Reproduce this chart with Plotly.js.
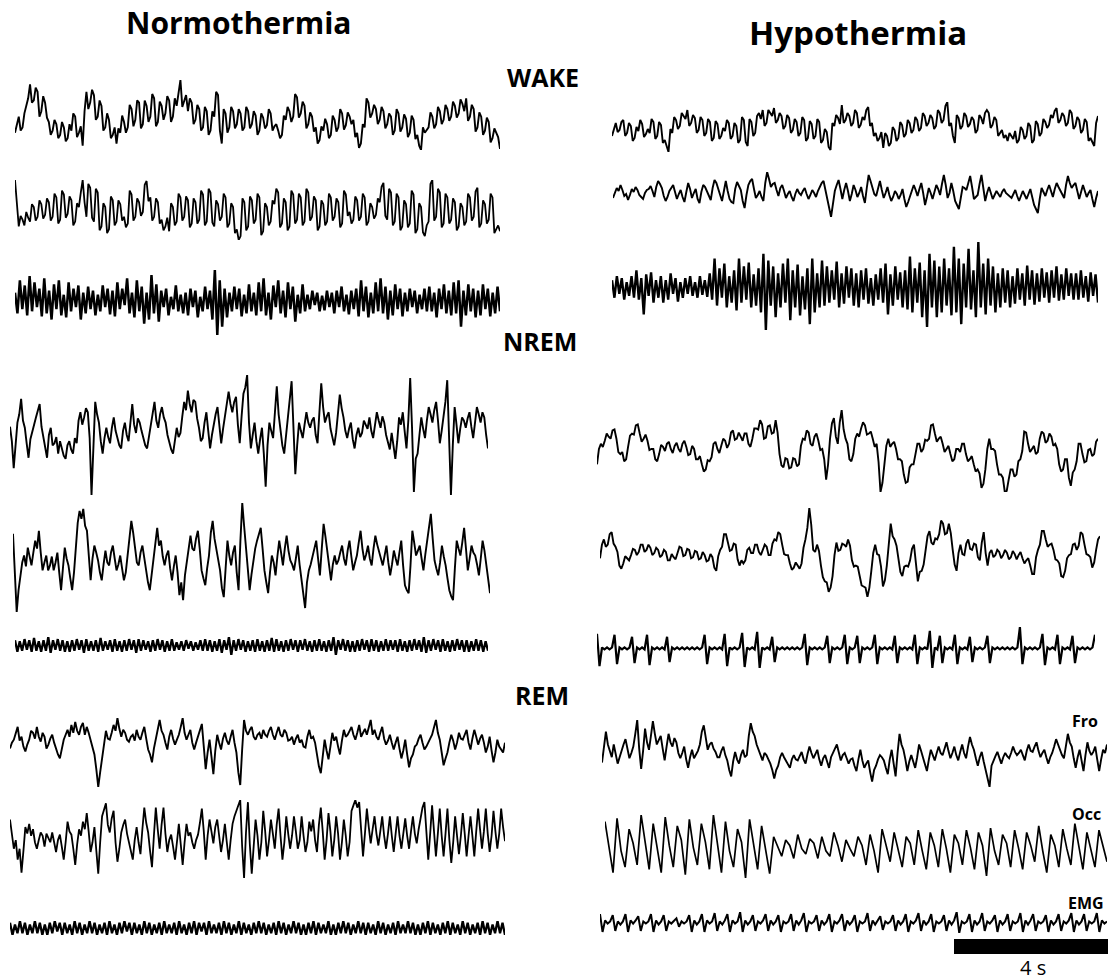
<!DOCTYPE html>
<html><head><meta charset="utf-8">
<script src="https://cdn.plot.ly/plotly-3.0.1.min.js"></script>
<style>html,body{margin:0;padding:0;background:#fff}</style>
</head><body>
<div id="chart" style="width:1113px;height:980px"></div>
<script>
// ---- Column / state labels ----
const columnTitles = ["Normothermia", "Hypothermia"];
const stateLabels = ["WAKE", "NREM", "REM"];
const channelLabels = ["Fro", "Occ", "EMG"];
const scaleLabel = "4 s";

// ---- Normothermia, WAKE ----
const normoWakeFro = [
-10,-2,5,-8,-5,8,15,22,35,18,20,32,28,5,10,24,18,4,0,-12,
-8,2,-2,-15,-12,0,-5,-18,-15,-2,-8,8,5,-14,-10,-4,-22,10,28,12,
18,30,25,2,5,20,15,-8,-5,8,2,-15,-12,-5,-20,-6,-10,6,0,-10,
-5,16,12,-4,2,20,18,-6,-2,20,15,0,5,26,22,-4,0,19,15,2,
8,24,20,0,5,22,15,30,39,14,20,25,10,22,18,-2,2,16,12,-8,
-5,14,10,-12,-8,10,5,28,25,-8,-20,12,8,-10,-5,14,10,-6,-2,12,
8,-8,-5,14,10,-6,-2,10,6,-12,-8,8,4,-6,-3,12,8,-8,-4,-2,
-8,-15,-12,6,2,14,10,0,5,26,23,4,8,19,15,-6,-2,9,5,-9,
-5,-20,-17,-4,-8,3,-2,-15,-12,6,2,-9,-5,12,8,-7,-3,9,5,-2,
2,-14,-10,-24,-20,-2,-5,22,18,4,8,16,12,-2,2,14,10,-6,-2,8,
5,-12,-8,12,8,-9,-5,7,3,-14,-10,6,2,-16,-12,-22,-26,-5,-10,-8,
-5,9,5,-6,-2,14,10,-2,2,16,12,1,5,19,15,4,8,21,17,10,
22,1,5,16,12,-9,-5,9,5,-12,-8,4,0,-19,-15,-6,-10,-14,-25];
const normoWakeOcc = [
33,10,-15,-4,-8,-14,0,-6,-10,8,5,-9,-5,12,8,-7,-3,14,10,-9,
-5,19,15,-12,-8,22,18,-6,-2,16,12,-14,-10,9,5,20,33,10,-5,29,
25,-6,-10,24,20,-19,-15,9,5,-22,-18,16,12,-14,-10,12,8,-9,-5,-16,
-12,22,18,-9,-5,14,10,-4,0,28,32,11,15,-9,-5,14,10,-12,-8,-19,
-15,-6,-20,9,5,-14,-10,19,15,-9,-5,16,12,-16,-12,14,10,-12,-8,22,
18,-14,-10,24,20,-11,-15,12,8,-9,-5,19,15,-16,-12,9,5,-22,-18,-29,
-25,14,10,-19,-15,16,12,-12,-8,19,15,-24,-20,9,5,-14,-10,12,8,24,
20,-16,-12,14,10,-19,-15,22,18,-12,-8,19,15,-14,-10,24,20,-9,-5,16,
12,-19,-15,12,8,-14,-10,19,15,-9,-5,14,10,-16,-12,22,18,-4,0,-12,
-8,16,12,-9,-5,19,15,-14,-10,9,5,-7,-3,14,10,26,30,-4,-8,24,
20,-14,-10,19,15,-19,-15,12,8,-16,-12,22,18,-22,-18,9,5,-21,-25,-14,
-10,29,33,-9,-5,24,20,-16,-12,19,15,-12,-8,14,10,-19,-15,9,5,-14,
-10,19,15,-9,-5,21,25,-16,-12,12,8,-12,-8,19,15,-22,-18,-14,-20];
const normoWakeEmg = [
8,-12,20,-8,15,-14,24,-10,18,-6,
12,-15,22,-12,10,-18,16,-8,20,-14,
6,-16,18,-10,12,-6,15,-18,8,-12,
14,-8,10,-14,6,-10,15,-6,12,-13,
10,-15,18,-8,12,-4,22,-12,8,-16,
20,-10,14,-22,8,-18,25,-12,16,-20,
10,-6,12,-14,4,-8,15,-10,6,-12,
8,-14,12,-6,10,-16,4,-10,14,-8,
10,-18,30,-33,20,-25,12,-16,8,-10,
14,-8,12,-15,6,-12,16,-10,8,-14,
18,-10,22,-14,8,-18,15,-6,20,-12,
10,-16,18,-8,14,-20,6,-12,16,-10,
6,-8,10,-4,8,-10,5,-9,10,-6,
8,-12,10,-6,14,-10,6,-13,10,-8,
12,-15,20,-10,14,-16,8,-12,18,-10,
22,-12,14,-18,10,-14,16,-8,12,-15,
8,-10,12,-6,10,-12,6,-8,12,-10,
14,-10,8,-16,12,-8,16,-12,10,-14,
18,-12,20,-25,10,-14,16,-10,12,-16,
10,-14,16,-8,12,-15,8,-12,14,-10];

// ---- Normothermia, NREM ----
const normoNremFro = [
6,-8,-34,-12,10,18,33,12,5,-10,-24,-6,0,8,15,22,28,6,-5,-16,
-24,-2,5,-12,-10,-4,-20,-8,-15,-22,-25,-12,-8,-16,-20,-5,-10,12,20,8,
15,24,20,-5,-60,-10,30,18,10,-8,-20,-5,5,-4,-10,5,15,2,-5,-12,
-15,2,10,-2,-8,12,28,8,0,14,10,2,-5,-12,-15,-4,5,18,30,12,
5,18,25,15,10,-2,-10,-16,-20,-6,5,-4,0,16,30,22,41,28,20,32,
30,14,5,-8,-5,10,20,2,-15,-2,10,18,25,5,-10,4,15,30,40,28,
20,30,35,8,-10,16,38,44,56,10,-15,-2,10,-8,-20,-6,5,-20,-52,-12,
10,2,-5,20,45,18,0,-12,-20,-4,15,32,50,5,-40,-12,10,2,-5,8,
20,10,5,12,15,-2,-10,20,48,25,10,16,20,4,-5,-12,0,18,37,24,
15,2,-5,4,10,-6,-15,-2,5,-4,0,12,8,4,15,2,-5,8,20,12,
5,16,10,-2,-10,-16,0,-14,-25,-8,15,8,20,2,-15,12,53,5,-57,-25,
-20,-2,15,4,-5,12,25,18,10,22,30,12,-10,2,15,30,51,0,-60,-12,
25,8,-10,4,15,12,5,14,20,6,-5,10,25,18,10,20,15,-2,-15];
const normoNremOcc = [
27,-10,-52,-30,-15,-2,5,-6,13,2,-5,8,20,12,30,8,-10,-2,5,-10,
-5,4,-10,-2,8,-12,-30,-8,13,2,-5,-18,-30,-12,10,38,50,42,52,35,
30,5,-20,2,15,8,0,-12,-20,-4,10,-2,-5,8,15,2,-10,-4,5,-8,
-20,-12,5,22,40,28,10,-2,-5,8,15,2,-10,-22,-30,-14,0,20,33,15,
20,4,-5,5,10,-8,-20,-6,5,-12,-35,-22,-40,-15,0,14,25,12,10,22,
30,12,-10,-18,-25,-8,5,28,40,22,10,2,-10,-28,-37,-8,20,5,-5,8,
15,-12,-30,20,58,35,10,-12,-30,-14,0,12,20,28,33,12,-10,-22,-33,-12,
5,-2,-15,4,20,8,-5,12,25,10,0,-4,-10,2,15,-4,-20,-36,-48,-22,
-10,-4,5,14,20,2,-15,12,37,24,10,-8,-20,-4,5,-4,0,8,15,2,
-5,10,20,4,-10,-2,5,18,30,12,0,6,15,2,-5,12,25,16,10,2,
-5,4,15,-2,-15,-4,10,2,-5,8,20,-5,-25,-30,-33,-5,30,18,5,10,
15,2,-10,6,20,34,47,22,0,-8,-15,-2,15,4,-5,-18,-30,-36,-40,-8,
20,12,5,18,33,12,-10,2,15,8,5,-4,-15,2,20,10,-5,-20,-33];
const normoNremEmg = [
5,-6,4,-5,6,-4,5,-6,7,-5,
4,-6,5,-5,8,-7,5,-4,6,-5,
5,-6,4,-6,5,-5,6,-4,5,-7,
6,-5,4,-5,5,-6,7,-5,4,-4,
5,-6,6,-5,4,-6,5,-5,6,-4,
5,-7,6,-5,5,-4,4,-6,5,-5,
6,-4,5,-6,4,-5,6,-5,3,-4,
4,-5,5,-3,4,-5,3,-4,5,-5,
6,-5,5,-6,4,-5,6,-7,5,-4,
8,-9,5,-5,6,-4,5,-6,4,-5,
5,-6,6,-5,4,-6,5,-5,7,-6,
6,-5,4,-6,5,-5,6,-4,5,-6,
5,-4,6,-5,4,-6,5,-5,6,-5,
4,-6,5,-5,8,-9,5,-4,6,-5,
5,-6,4,-6,5,-5,6,-4,5,-6,
6,-5,5,-6,4,-5,6,-5,5,-4,
5,-6,6,-5,4,-6,5,-5,6,-4,
5,-6,8,-7,5,-5,6,-4,5,-6,
6,-5,4,-6,5,-5,6,-4,5,-6,
5,-6,4,-5,6,-5,5,-6,4,-5];

// ---- Normothermia, REM ----
const normoRemFro = [
-4,2,5,12,18,4,8,-2,-7,0,5,14,12,6,18,8,3,12,8,-4,
0,6,10,2,-5,-10,-14,-4,5,10,15,8,20,12,23,14,10,18,22,10,
18,12,5,-2,-10,-25,-43,-28,-15,2,14,6,5,12,20,14,27,16,8,15,
12,5,3,8,10,4,15,8,5,12,18,6,-5,-10,-18,-4,5,16,25,14,
10,2,-5,8,15,6,0,5,10,18,27,12,5,10,15,2,-5,2,8,14,
21,-2,-25,-8,5,-12,-30,-6,10,2,-5,6,12,4,0,8,15,2,-8,-28,
-41,-5,25,14,10,15,18,8,5,10,12,6,15,10,8,14,18,10,5,12,
18,10,8,15,12,4,5,8,0,6,10,2,5,-2,-3,8,15,6,8,2,
-10,-22,-29,-8,5,-6,-15,-2,12,4,8,-2,-10,4,15,8,10,14,18,10,
5,12,20,8,12,16,10,18,25,10,15,8,5,12,18,6,0,4,10,2,
-5,2,8,-4,-14,-6,5,-10,-23,-14,-10,-2,0,6,10,2,-5,-2,3,6,
10,18,25,12,5,-8,-21,-14,-8,2,10,4,-5,2,12,6,5,10,15,2,
-5,6,15,8,0,6,10,2,-8,-2,8,-6,-18,-8,5,-2,-5,-8,2];
const normoRemOcc = [
17,5,-10,-2,-20,-10,-32,-12,10,4,13,2,8,-4,-10,-2,5,2,-8,4,
0,-4,5,-6,-13,-2,3,-8,-20,-4,15,6,3,-10,-25,-6,8,2,15,8,
23,6,-13,-4,10,-12,-33,-4,20,26,32,12,5,18,25,-4,-22,-10,5,12,
17,4,-5,-12,-20,-2,10,-4,-15,8,28,14,5,-12,-27,2,28,8,-10,12,
28,4,-13,-2,3,-8,-20,-4,13,-6,-25,-4,13,2,5,-4,-10,-2,3,14,
27,6,-20,2,17,6,-5,10,17,2,-13,-2,13,-4,-20,-2,13,20,25,30,
35,-8,-37,5,33,-6,-33,-8,17,2,-20,-4,25,6,-17,-2,17,4,-10,12,
27,2,-20,-4,20,4,-10,2,20,6,-10,-2,20,2,-13,-4,15,6,17,-2,
-13,12,28,6,-20,-2,23,6,-17,-2,20,4,-20,-4,17,2,-17,-4,25,30,
35,28,33,8,-17,4,27,10,-5,8,20,4,-7,6,20,2,-10,4,20,2,
-13,4,20,2,-10,4,18,2,-10,6,20,4,-5,8,20,28,33,6,-20,4,
30,6,-17,4,27,2,-17,4,27,-2,-23,-4,20,2,-15,2,23,4,-17,2,
20,2,-17,6,27,8,-10,6,27,4,-13,2,25,6,-10,4,27,10,-3];
const normoRemEmg = [
3,-4,2,-3,4,-3,3,-4,2,-3,
4,-3,3,-4,2,-4,3,-3,4,-2,
3,-4,3,-3,2,-4,4,-3,3,-4,
2,-3,4,-3,3,-4,2,-3,3,-4,
4,-3,2,-4,3,-3,4,-2,3,-4,
3,-3,2,-4,4,-3,3,-4,2,-3,
3,-4,4,-3,2,-3,3,-4,4,-3,
2,-4,3,-3,4,-4,3,-2,3,-4,
4,-3,2,-3,3,-4,4,-3,3,-4,
2,-3,4,-4,3,-3,2,-4,3,-3,
4,-3,3,-4,2,-3,3,-4,4,-3,
3,-4,2,-3,4,-3,3,-4,2,-4,
3,-3,4,-4,3,-3,2,-3,4,-4,
2,-4,3,-3,4,-3,3,-4,2,-3,
4,-3,3,-4,3,-3,2,-4,4,-3,
3,-4,2,-3,3,-4,4,-3,2,-3,
4,-3,3,-4,2,-4,3,-3,4,-4,
3,-3,2,-4,3,-3,4,-4,3,-3,
2,-4,4,-3,3,-4,2,-3,3,-4,
4,-3,3,-4,2,-3,4,-3,3,-4];

// ---- Hypothermia, WAKE ----
const hypoWakeFro = [
-8,-2,5,-4,-2,6,8,-8,-5,5,2,-13,-10,1,-3,8,4,-9,-6,-1,
-5,9,6,-11,-8,6,3,-15,-12,-18,-24,-1,-5,11,8,-1,2,15,12,9,
18,2,5,13,10,-5,-2,11,8,-8,-5,9,6,-13,-10,7,4,-11,-8,0,
-3,8,5,-11,-8,5,2,-15,-12,11,8,-14,-18,9,6,-8,-5,12,15,9,
18,2,5,18,15,12,20,5,8,15,12,-1,2,13,10,-5,-2,9,6,-8,
-5,11,8,-13,-10,7,4,-11,-8,9,6,-15,-12,-1,-4,-19,-22,5,2,13,
10,4,23,5,8,15,12,2,5,18,15,0,3,11,8,18,21,2,5,-8,
-5,-13,-10,-4,-20,-5,-8,-18,-15,1,-2,-13,-10,6,3,-9,-6,8,5,-5,
-2,11,8,-3,0,15,12,2,5,13,10,-1,2,18,15,5,8,22,26,2,
5,-8,-15,13,10,-1,2,15,12,1,4,11,8,-5,-2,13,10,4,15,18,
15,0,3,11,8,-8,-5,-2,-10,-7,-13,-5,-8,-11,-3,-15,-12,1,-2,-11,
-8,5,2,-15,-12,7,4,-8,-5,9,6,0,3,13,10,17,20,5,8,15,
12,2,5,18,15,-1,2,11,8,-5,-2,9,6,-13,-10,-15,-18,5,12];
const hypoWakeOcc = [
-5,1,5,2,8,3,-3,-1,-7,-2,4,1,6,3,-2,-4,-6,0,3,4,
7,2,-4,6,12,9,5,-3,-8,-4,2,5,8,1,-6,-1,3,-4,-9,1,
10,4,-5,0,4,-6,-10,1,8,6,2,-3,-7,5,13,10,5,-2,-8,3,
12,2,-6,-9,-10,4,11,7,3,-8,-15,-2,8,12,14,4,-5,-2,2,-4,
-8,10,21,14,6,9,10,3,-3,5,8,2,-5,-1,2,-4,-8,-1,4,0,
-2,2,5,-1,-6,-2,3,0,-4,2,7,10,12,4,-5,-15,-24,-8,2,8,
13,4,-6,3,10,2,-8,-1,8,3,-4,0,6,-3,-10,5,18,12,5,-1,
-3,6,12,3,-5,0,6,-2,-8,-4,2,-1,-6,-2,4,-6,-14,-9,-4,2,
8,3,-3,4,10,0,-12,-4,5,0,-6,1,8,4,-2,9,18,8,-5,0,
10,2,-8,-12,-16,-5,6,5,3,10,17,6,-6,-4,-2,9,18,5,-8,0,
6,0,-6,-2,2,-1,-4,1,4,0,-2,-4,-5,-1,3,-3,-8,-3,2,-2,
-6,-1,4,-4,-12,-16,-20,-6,5,1,-3,3,8,2,-4,4,10,6,2,-2,
-5,8,17,10,5,8,10,2,-6,1,8,2,-4,0,3,-6,-14,-5,2];
const hypoWakeEmg = [
8,-10,12,-6,10,-12,6,-8,12,-10,
18,-12,10,-27,14,-8,16,-15,8,-10,
12,-15,8,-12,15,-6,10,-14,6,-10,
10,-6,12,-8,6,-10,12,-7,8,-9,
15,-12,30,-18,20,-10,25,-20,12,-15,
18,-23,30,-15,22,-12,26,-20,14,-18,
20,-25,35,-43,28,-18,22,-30,15,-20,
25,-15,30,-33,18,-20,24,-28,12,-22,
20,-37,30,-25,15,-20,28,-18,22,-15,
18,-12,27,-20,15,-16,22,-10,20,-18,
15,-20,18,-12,20,-16,10,-18,14,-12,
20,-15,25,-27,14,-18,22,-12,16,-20,
18,-22,32,-25,20,-15,26,-30,18,-40,
35,-20,28,-30,22,-25,30,-18,20,-28,
42,-25,30,-37,25,-20,40,-22,18,-30,
47,-20,25,-27,30,-18,22,-25,15,-20,
20,-15,18,-20,12,-16,20,-12,15,-18,
23,-12,18,-17,15,-14,20,-10,16,-15,
18,-10,22,-13,14,-12,20,-8,15,-12,
15,-12,18,-10,12,-14,16,-8,14,-15];

// ---- Hypothermia, NREM ----
const hypoNremFro = [
-15,0,5,2,8,15,12,10,18,19,10,-3,-5,-3,-12,-10,2,13,15,14,
23,24,15,7,10,14,8,-1,0,0,-10,-12,-5,4,2,-2,5,7,0,-4,
3,6,0,-3,5,8,2,-6,-5,3,0,-10,-10,-7,-15,-22,-20,-11,-12,-8,
5,7,0,-4,3,10,8,1,5,16,18,9,10,16,12,8,15,15,5,2,
10,20,20,19,28,24,10,11,22,23,15,16,28,16,-5,-16,-18,-9,-10,-19,
-18,-9,-10,-17,-15,3,10,9,18,16,5,3,12,15,8,-1,0,-10,-30,-15,
10,25,30,12,5,26,38,19,10,5,-10,-12,-5,10,15,12,20,26,23,14,
15,17,10,2,5,-13,-42,-33,-15,3,10,2,5,7,0,-10,-10,-12,-25,-33,
-32,-18,-15,-15,-5,5,5,-3,0,9,8,10,23,24,15,7,10,12,5,-3,
0,3,-5,-12,-10,0,0,-3,5,5,-5,-12,-10,-7,-15,-22,-20,-24,-38,-34,
-20,0,10,0,0,-2,-15,-25,-25,-28,-42,-41,-30,-20,-20,-27,-25,-12,-10,-2,
17,16,5,-3,0,3,-5,-3,10,17,15,6,8,15,12,3,5,0,-15,-22,
-20,-10,-10,-28,-36,-23,-20,-12,5,5,-5,-13,-12,-1,0,-7,-5,7,10];
const hypoNremOcc = [
-3,10,15,8,10,20,22,11,8,3,-10,-13,-8,-1,-3,-5,0,6,5,0,
3,10,10,3,5,10,7,0,2,7,5,-2,0,5,3,-5,-5,1,-2,-4,
2,8,7,-1,0,6,5,-3,-2,4,3,-4,-3,3,0,-6,-5,1,-2,-12,
-15,-1,5,8,20,20,12,4,5,11,10,-4,-10,-5,-8,-5,5,7,2,2,
10,10,3,0,5,10,8,0,0,11,15,14,22,20,10,1,0,0,-8,-14,
-12,-7,-10,-13,-8,7,15,26,45,29,5,3,10,4,-10,-21,-25,-26,-35,-31,
-20,0,12,4,5,11,10,8,15,9,-5,-11,-10,-11,-20,-29,-30,-31,-40,-31,
-15,2,10,1,0,-11,-30,-24,-10,14,30,18,15,9,-5,-16,-20,-11,-10,-11,
-5,6,10,-11,-25,-16,-15,-9,5,18,23,12,10,16,15,20,33,30,20,21,
30,21,5,-9,-15,2,10,1,0,11,15,6,5,11,10,-2,-5,12,22,2,
-10,2,5,-2,0,5,3,-3,0,5,2,-4,-2,4,1,-4,0,3,-3,-8,
-5,-3,-10,-18,-18,-2,5,10,23,23,15,8,10,11,5,-4,-5,-8,-20,-21,
-15,-3,0,1,10,11,5,9,22,20,10,1,0,-2,-12,-7,5,15,18];
const hypoNremEmg = [
15,-18,1,-1,1,-1,1,14,-16,1,
-1,1,-1,1,12,-15,1,-1,1,-1,
14,-17,1,-1,1,-1,1,-1,12,-14,
1,-1,1,-1,1,-1,1,-1,1,-1,
1,-1,1,14,-16,1,-1,1,-1,1,
-1,15,-18,1,-1,1,-1,1,16,-19,
1,-1,1,-1,17,-20,1,-1,1,-1,
12,-14,1,-1,1,-1,1,-1,1,-1,
1,-1,1,15,-17,1,-1,1,-1,1,
-1,1,13,-15,1,-1,1,-1,1,14,
-16,1,-1,1,13,-15,1,-1,1,-1,
1,14,-16,1,-1,1,-1,1,-1,13,
-15,1,-1,1,-1,1,-1,14,-16,1,
-1,1,-1,18,-20,1,-1,13,-15,1,
-1,1,-1,14,-16,1,-1,1,-1,12,
-14,1,-1,1,-1,1,13,-15,1,-1,
1,-1,1,-1,1,-1,1,-1,1,22,
-16,1,-1,1,-1,1,-1,1,15,-17,
1,-1,1,-1,14,-16,1,-1,1,-1,
13,-15,1,-1,1,-1,1,-1,1,14];

// ---- Hypothermia, REM ----
const hypoRemFro = [
-7,8,22,10,5,-2,10,0,-8,-2,5,10,15,4,-3,2,8,20,33,6,
-13,4,25,12,5,18,32,20,10,14,18,6,-5,8,20,12,8,16,12,2,
-3,2,8,-4,-12,-2,5,-3,0,4,10,22,28,14,5,10,12,6,3,-2,
-2,4,8,0,-5,-14,-20,-6,3,-4,-8,0,5,-2,0,18,30,22,18,10,
5,-2,-5,2,0,-4,-8,-14,-22,-14,-10,-2,2,-2,-5,-9,-12,-4,0,-4,
-5,-1,3,-4,-8,1,8,2,-3,1,5,-4,-10,-3,0,-6,-12,-2,3,6,
10,2,-5,0,2,-3,-8,-4,-3,-10,-15,-4,5,-5,-12,-8,-5,-16,-25,-14,
-10,-4,0,-2,-5,-12,-18,-4,5,-8,-20,2,20,10,5,-4,-15,-6,0,-6,
-12,-2,10,4,-3,-8,-15,-4,5,0,-5,2,8,2,0,6,12,4,-3,2,
8,0,-5,3,10,2,-3,8,17,10,5,-3,-10,-2,3,-6,-15,-22,-30,-10,
-5,-1,3,-3,-8,-2,2,-1,-3,2,8,3,0,2,5,0,-5,4,10,4,
3,8,12,4,-2,2,5,-2,-8,-2,2,8,15,10,5,0,-3,10,20,12,
8,-3,-12,-2,5,-5,-15,0,12,4,0,3,8,-4,-15,-4,5,2,10];
const hypoRemOcc = [
22,0,-25,25,-5,-20,15,2,-18,28,5,-22,20,-3,-25,26,0,-20,18,5,-27,
24,-2,-18,20,3,-22,28,0,-25,22,-5,-20,15,3,-30,24,0,-22,18,-5,-26,
8,-2,-10,5,0,-12,10,-3,-8,6,2,-12,8,-5,-10,12,0,-15,5,-3,-10,8,0,-18,
10,-5,-25,15,0,-15,12,-3,-20,8,2,-18,14,-5,-22,12,0,-20,15,-3,-25,
10,2,-18,14,-2,-22,12,0,-28,16,-5,-18,10,2,-20,14,-3,-22,12,0,-15,
18,-5,-25,10,0,-20,15,-3,-18,20,0,-22,12,-5,-20,14,0,-15];
const hypoRemEmg = [
8,-9,2,-1,1, 7,-8,1,-2,1, 8,-9,2,-1,2, 6,-8,1,-1,1, 8,-9,2,-2,1,
7,-8,1,-1,2, 4,-4,1,-1,1, 7,-9,2,-2,1, 8,-9,2,-1,1, 9,-8,1,-2,2,
8,-9,2,-1,1, 10,-9,2,-2,1, 7,-8,1,-1,2, 8,-8,2,-2,1, 7,-9,1,-1,1,
8,-8,2,-2,2, 9,-9,1,-1,1, 7,-8,2,-2,1, 8,-9,1,-1,2, 8,-8,2,-2,1,
7,-9,1,-1,1, 9,-8,2,-2,2, 6,-7,1,-1,1, 7,-8,2,-2,1, 8,-9,1,-1,2,
9,-8,2,-2,1, 8,-9,1,-1,1, 7,-8,2,-2,2, 10,-10,1,-1,1, 8,-9,2,-2,1,
9,-8,1,-1,2, 7,-9,2,-2,1, 8,-8,1,-1,1, 9,-9,2,-2,2, 8,-8,1,-1,1,
7,-9,2,-2,1, 8,-8,1,-1,2, 9,-9,2,-2,1, 8,-8,1,-1,1, 9,-9,2,-1,1];

// ---- Layout of the panels (pixel boxes on the page) ----
const W = 1113, H = 980;
const panels = [
  {d: normoWakeFro, x0: 15, x1: 500, y0: 80,  y1: 150, w: 1.9},
  {d: normoWakeOcc, x0: 15, x1: 500, y0: 180, y1: 240, w: 1.8},
  {d: normoWakeEmg, x0: 15, x1: 500, y0: 270, y1: 335, w: 2.5},
  {d: normoNremFro, x0: 10, x1: 488, y0: 375, y1: 495, w: 1.9},
  {d: normoNremOcc, x0: 13, x1: 490, y0: 503, y1: 612, w: 1.9},
  {d: normoNremEmg, x0: 15, x1: 488, y0: 637, y1: 655, w: 2.3},
  {d: normoRemFro,  x0: 10, x1: 505, y0: 718, y1: 787, w: 1.9},
  {d: normoRemOcc,  x0: 10, x1: 505, y0: 800, y1: 878, w: 1.8},
  {d: normoRemEmg,  x0: 10, x1: 505, y0: 921, y1: 935, w: 2.3},
  {d: hypoWakeFro,  x0: 612, x1: 1098, y0: 102, y1: 152, w: 1.9},
  {d: hypoWakeOcc,  x0: 613, x1: 1098, y0: 172, y1: 217, w: 1.9},
  {d: hypoWakeEmg,  x0: 612, x1: 1098, y0: 242, y1: 330, w: 2.4},
  {d: hypoNremFro,  x0: 597, x1: 1098, y0: 410, y1: 492, w: 1.9},
  {d: hypoNremOcc,  x0: 600, x1: 1100, y0: 508, y1: 597, w: 1.9},
  {d: hypoNremEmg,  x0: 597, x1: 1095, y0: 627, y1: 668, w: 2.2},
  {d: hypoRemFro,   x0: 602, x1: 1107, y0: 720, y1: 787, w: 1.9},
  {d: hypoRemOcc,   x0: 605, x1: 1107, y0: 815, y1: 878, w: 1.7},
  {d: hypoRemEmg,   x0: 600, x1: 1107, y0: 912, y1: 933, w: 2.0}
];

const traces = [];
const layout = {
  width: W, height: H,
  margin: {l: 0, r: 0, t: 0, b: 0},
  showlegend: false,
  paper_bgcolor: '#ffffff', plot_bgcolor: 'rgba(0,0,0,0)',
  annotations: [], shapes: []
};

panels.forEach((p, i) => {
  const n = i + 1;
  const sfx = n === 1 ? '' : String(n);
  const t = p.d.map((_, k) => k);
  traces.push({
    x: t, y: p.d, xaxis: 'x' + sfx, yaxis: 'y' + sfx,
    type: 'scatter', mode: 'lines',
    line: {color: '#000000', width: p.w, shape: 'linear'},
    hoverinfo: 'skip'
  });
  const mn = Math.min(...p.d), mx = Math.max(...p.d);
  layout['xaxis' + sfx] = {domain: [p.x0 / W, p.x1 / W], range: [0, p.d.length - 1],
    visible: false, fixedrange: true, anchor: 'y' + sfx};
  layout['yaxis' + sfx] = {domain: [1 - p.y1 / H, 1 - p.y0 / H], range: [mn, mx],
    visible: false, fixedrange: true, anchor: 'x' + sfx};
});

const fam = '"Open Sans", Lato, sans-serif';
function ann(text, x, y, size) {
  layout.annotations.push({text: '<b>' + text + '</b>', x: x / W, y: 1 - y / H,
    xref: 'paper', yref: 'paper', showarrow: false, xanchor: 'center', yanchor: 'middle',
    font: {family: fam, size: size, color: '#000'}});
}
ann(columnTitles[0], 238, 23, 30);
ann(columnTitles[1], 858, 33, 33);
ann(stateLabels[0], 543, 77, 25);
ann(stateLabels[1], 540, 341, 25);
ann(stateLabels[2], 542, 695, 25);
ann(channelLabels[0], 1085, 721, 16);
ann(channelLabels[1], 1086, 814, 16);
ann(channelLabels[2], 1086, 903, 16);
layout.annotations.push({text: scaleLabel, x: 1033 / W, y: 1 - 967 / H, xref: 'paper', yref: 'paper',
  showarrow: false, xanchor: 'center', yanchor: 'middle',
  font: {family: fam, size: 20, color: '#000'}});
layout.shapes.push({type: 'rect', xref: 'paper', yref: 'paper',
  x0: 954 / W, x1: 1108 / W, y0: 1 - 954 / H, y1: 1 - 939 / H,
  fillcolor: '#000', line: {width: 0}});

Plotly.newPlot('chart', traces, layout, {staticPlot: true, displayModeBar: false});
</script>
</body></html>
